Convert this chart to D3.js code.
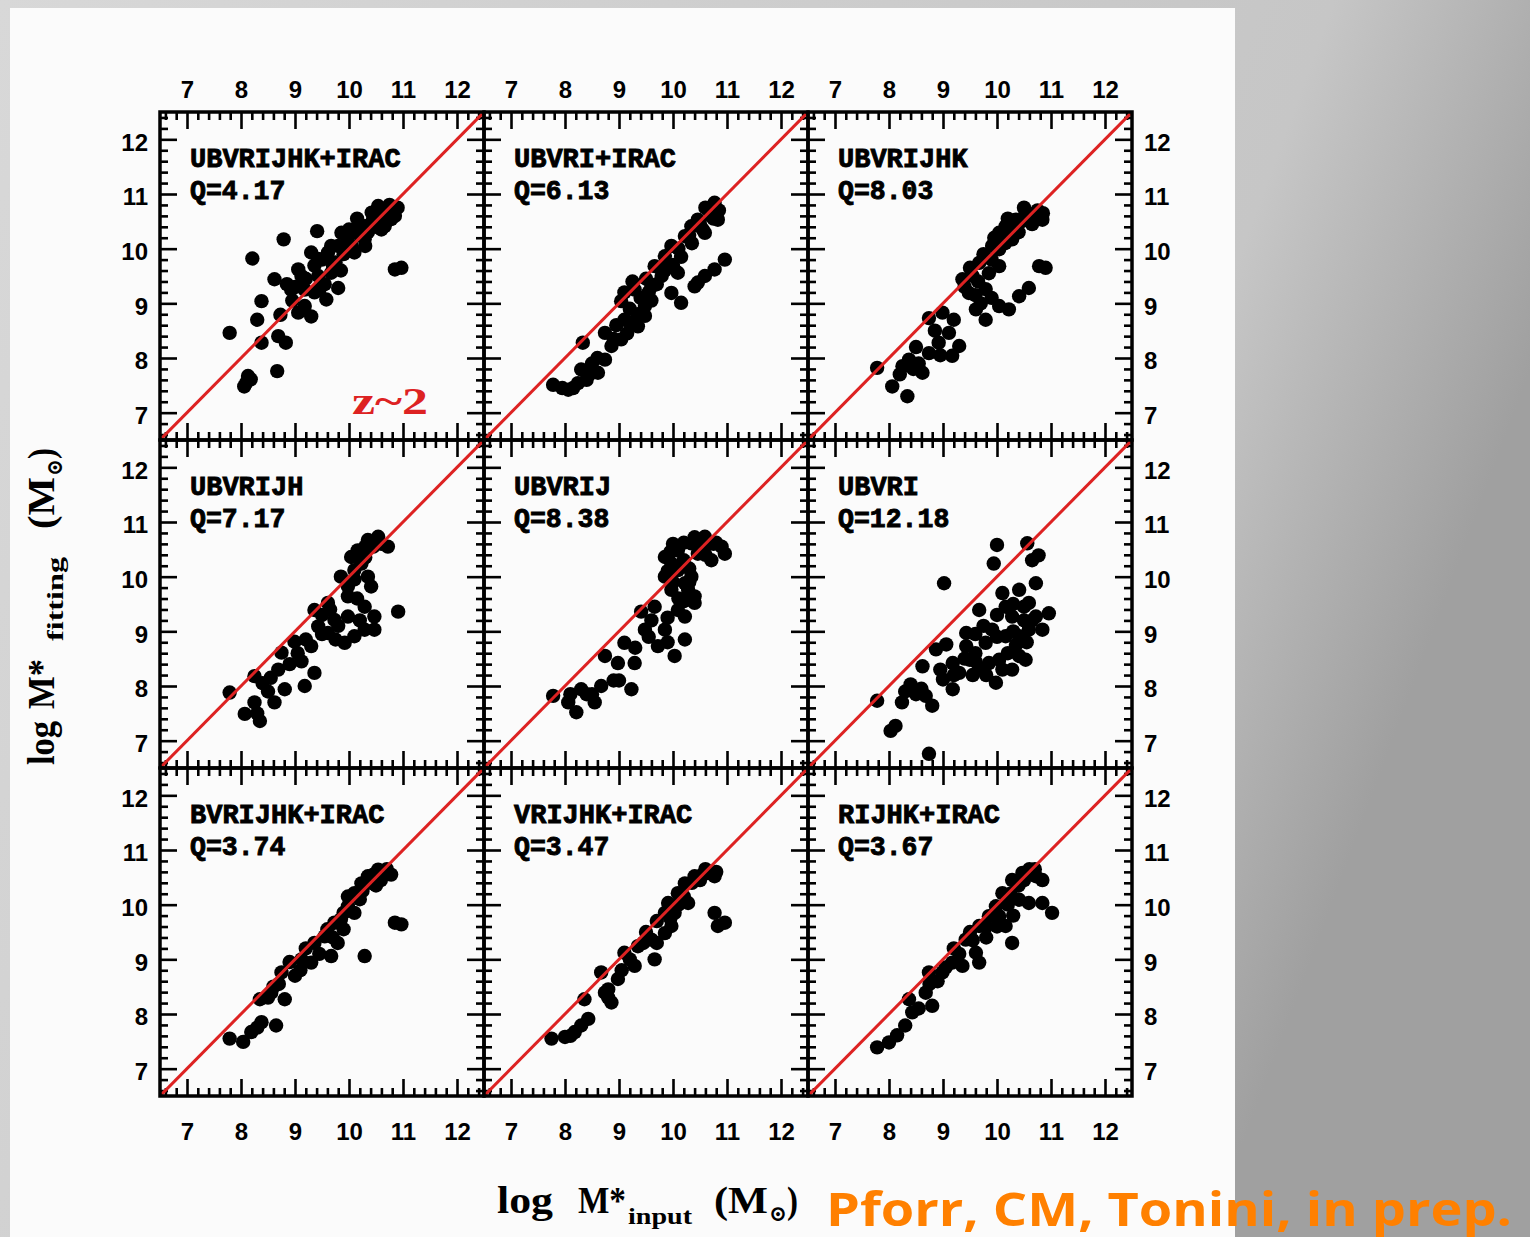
<!DOCTYPE html>
<html><head><meta charset="utf-8">
<script src="https://cdn.jsdelivr.net/npm/d3@7"></script>
<style>html,body{margin:0;padding:0;overflow:hidden;background:#ccc}svg{display:block}</style>
</head><body>
<script>
// Photometric band combinations used in the SED fits and their quality figure Q
const bandSets = ["UBVRIJHK+IRAC","UBVRI+IRAC","UBVRIJHK","UBVRIJH","UBVRIJ","UBVRI","BVRIJHK+IRAC","VRIJHK+IRAC","RIJHK+IRAC"];
const qValues = ["4.17","6.13","8.03","7.17","8.38","12.18","3.74","3.47","3.67"];
const majorTicks = [7,8,9,10,11,12];
const minorTicks = [6.6,6.8,7.2,7.4,7.6,7.8,8.2,8.4,8.6,8.8,9.2,9.4,9.6,9.8,10.2,10.4,10.6,10.8,11.2,11.4,11.6,11.8,12.2,12.4];

// [log M*input, log M*fitting] per galaxy
const fitUBVRIJHK_IRAC = [[7.79,8.46],[8.21,9.82],[8.79,10.17],[9.41,10.32],[8.38,9.04],[8.30,8.70],[8.38,8.28],[8.62,9.44],[8.73,8.79],[8.69,8.40],[8.83,8.28],[8.67,7.76],[8.13,7.67],[8.06,7.48],[8.18,7.61],[8.10,7.55],[10.85,9.62],[10.97,9.65],[9.80,9.28],[9.58,9.07],[9.30,8.76],[9.06,8.83],[8.93,9.25],[9.18,9.25],[9.06,9.62],[9.30,9.93],[9.43,9.81],[9.12,9.50],[9.43,9.50],[9.67,9.56],[9.18,8.95],[9.36,9.20],[9.67,10.05],[9.98,10.23],[10.10,9.93],[10.29,10.41],[10.54,10.60],[10.72,10.66],[10.78,10.54],[10.54,10.78],[10.42,10.66],[10.17,10.41],[9.86,10.29],[9.61,9.93],[9.36,9.69],[9.80,10.05],[10.05,10.05],[10.29,10.17],[10.66,10.41],[10.00,10.35],[10.20,10.25],[10.40,10.45],[10.60,10.50],[10.80,10.70],[10.75,10.80],[10.50,10.40],[9.90,9.90],[9.50,9.80],[10.15,10.55],[10.35,10.30],[9.75,9.75],[8.95,9.05],[9.00,9.30],[9.20,9.45],[9.55,9.35],[9.70,9.70],[9.95,10.10],[10.25,10.30],[10.45,10.55],[10.65,10.65],[10.85,10.60],[10.90,10.75],[10.60,10.35],[10.30,10.05],[9.85,9.60],[9.45,9.25],[8.85,9.35]];
const fitUBVRI_IRAC = [[7.78,7.51],[8.06,7.42],[8.24,7.54],[8.30,7.79],[8.33,8.28],[8.61,7.73],[8.74,7.97],[8.74,8.46],[8.86,8.22],[9.04,8.34],[9.10,8.70],[9.04,9.04],[9.29,9.25],[9.48,8.95],[9.35,8.58],[9.60,9.31],[9.66,9.68],[9.85,9.86],[9.79,9.50],[9.97,10.05],[10.09,9.56],[9.97,9.19],[10.15,9.01],[10.22,10.23],[10.34,10.41],[10.46,10.53],[10.65,10.72],[10.77,10.84],[10.83,10.53],[10.59,10.29],[10.40,9.31],[10.59,9.50],[10.77,9.62],[10.96,9.80],[10.46,9.38],[9.50,9.45],[9.90,9.70],[10.10,10.00],[10.30,10.25],[10.50,10.45],[10.70,10.60],[10.60,10.75],[8.95,8.60],[9.20,8.90],[9.15,8.45],[8.50,7.90],[8.40,7.60],[7.95,7.45],[9.40,9.10],[9.55,9.20],[10.00,9.70],[9.48,8.77],[8.15,7.45],[8.45,7.70],[8.60,8.00],[8.90,8.35],[9.20,8.65],[9.35,8.80],[9.60,9.05],[9.70,9.35],[9.85,9.60],[10.15,9.85],[10.35,10.10],[10.55,10.35],[10.75,10.55],[10.85,10.70],[9.10,9.20],[9.25,9.40]];
const fitUBVRIJHK = [[7.78,7.82],[8.06,7.48],[8.34,7.30],[8.25,7.85],[8.37,7.97],[8.62,7.73],[8.74,8.09],[8.74,8.73],[8.99,8.83],[9.11,8.46],[9.30,8.22],[9.17,8.04],[8.92,8.28],[9.36,9.44],[9.48,9.19],[9.67,9.74],[9.61,8.89],[9.79,8.70],[9.79,9.26],[10.04,9.68],[9.91,10.05],[10.04,10.29],[10.16,10.41],[10.35,10.53],[10.53,10.66],[10.72,10.60],[10.84,10.53],[10.28,10.17],[10.04,8.95],[10.22,8.89],[10.41,9.13],[10.59,9.28],[10.90,9.65],[10.78,9.68],[10.04,9.99],[9.55,9.50],[9.50,9.65],[9.75,9.90],[9.95,10.20],[10.10,10.30],[10.30,10.35],[10.45,10.50],[10.60,10.55],[10.75,10.70],[10.50,10.75],[10.20,10.55],[9.85,9.55],[9.70,9.00],[9.20,8.70],[8.85,8.50],[8.55,7.90],[8.45,7.80],[9.40,9.30],[9.65,9.40],[9.90,9.80],[10.15,10.10],[10.40,10.30],[10.65,10.45],[10.85,10.65],[9.60,9.15],[9.90,9.10],[8.95,8.05],[8.20,7.70],[8.50,8.20]];
const fitUBVRIJH = [[7.79,7.88],[8.07,7.49],[8.35,7.36],[8.25,7.70],[8.25,8.18],[8.40,8.05],[8.62,7.70],[8.69,8.30],[8.75,8.61],[8.81,7.94],[8.99,8.81],[9.12,8.45],[9.18,8.00],[9.36,8.24],[9.30,8.73],[9.43,9.09],[9.36,9.39],[9.61,9.52],[9.61,8.97],[9.73,9.21],[9.92,8.79],[9.98,9.27],[10.10,8.91],[10.29,9.03],[10.47,9.03],[10.29,9.45],[10.47,9.27],[10.91,9.36],[9.85,10.00],[9.98,9.82],[10.10,10.12],[10.04,10.36],[10.16,10.48],[10.35,10.67],[10.54,10.73],[10.72,10.55],[10.23,10.24],[10.41,9.82],[9.98,9.64],[10.45,10.55],[10.60,10.60],[10.30,10.35],[9.50,9.30],[9.20,8.85],[8.90,8.40],[8.50,7.90],[9.80,9.10],[10.15,9.60],[10.30,10.55],[10.10,9.95],[10.35,10.00],[9.50,8.95],[9.75,8.85],[9.05,8.60],[8.55,8.15],[8.30,7.50],[9.65,9.40],[10.20,9.20]];
const fitUBVRIJ = [[7.78,7.82],[8.06,7.70],[8.21,7.52],[8.30,7.94],[8.55,7.70],[8.67,8.00],[8.74,8.55],[8.98,8.42],[9.10,8.79],[9.23,7.94],[9.29,8.42],[9.48,9.03],[9.41,9.36],[9.66,9.45],[9.72,8.73],[9.85,9.03],[10.03,8.55],[10.22,8.85],[10.22,9.27],[10.09,9.39],[10.40,9.52],[9.97,9.76],[10.28,9.76],[9.85,10.00],[10.09,10.12],[10.34,10.00],[9.85,10.36],[10.09,10.48],[10.34,10.61],[10.59,10.73],[10.71,10.30],[10.90,10.55],[10.96,10.42],[10.46,10.42],[9.97,10.24],[10.22,9.88],[10.40,9.64],[10.20,10.30],[10.50,10.60],[10.75,10.60],[9.95,10.45],[10.10,9.60],[9.55,8.90],[9.00,8.10],[8.50,7.85],[9.90,9.25],[10.60,10.40],[10.00,10.60],[10.20,10.62],[10.40,10.72],[10.62,10.60],[10.80,10.62],[9.90,10.10],[10.15,10.20],[10.30,10.15],[10.00,9.90],[10.30,9.90],[10.20,9.55],[9.60,9.20],[9.30,8.70],[9.90,8.80],[8.90,8.10],[8.40,7.85],[8.10,7.85]];
const fitUBVRI = [[7.78,7.73],[8.12,7.27],[8.03,7.18],[8.74,6.76],[8.40,8.03],[8.24,7.70],[8.68,7.82],[8.80,7.64],[8.62,8.36],[8.87,8.67],[9.06,8.76],[9.18,8.42],[9.00,8.12],[9.18,7.94],[9.43,8.97],[9.49,8.48],[9.30,8.24],[9.67,9.39],[9.67,8.30],[9.79,8.79],[9.98,8.06],[10.04,8.48],[9.91,9.03],[10.16,8.91],[10.28,8.30],[10.41,8.55],[10.53,8.48],[10.28,9.27],[10.10,9.70],[10.41,9.76],[10.59,9.52],[10.16,9.45],[10.59,9.03],[10.84,9.03],[10.96,9.33],[10.72,9.27],[10.41,8.91],[10.72,9.88],[9.02,9.88],[9.94,10.24],[10.00,10.58],[10.56,10.61],[10.77,10.39],[10.65,10.30],[9.43,8.73],[9.85,8.42],[9.60,8.60],[10.00,8.90],[10.30,9.00],[10.50,9.20],[9.55,8.20],[10.20,8.60],[8.50,7.85],[9.40,8.50],[9.60,8.45],[9.80,8.20],[10.10,8.30],[10.35,8.75],[10.55,8.80],[10.65,9.20],[10.00,9.30],[9.75,9.10],[9.60,8.95],[10.30,9.50],[10.50,9.45],[9.20,8.20],[8.95,8.30],[8.60,7.95],[8.30,7.90]];
const fitBVRIJHK_IRAC = [[7.79,7.55],[8.04,7.49],[8.19,7.67],[8.38,7.85],[8.65,7.79],[8.35,8.27],[8.56,8.39],[8.81,8.27],[8.75,8.76],[9.00,8.70],[9.12,9.00],[9.30,8.94],[9.36,9.30],[9.55,9.42],[9.67,9.06],[9.79,9.30],[9.73,9.67],[9.98,9.97],[10.10,10.21],[10.23,10.39],[10.35,10.52],[10.54,10.64],[10.78,10.55],[10.10,9.85],[10.29,9.06],[10.85,9.67],[10.97,9.64],[9.85,9.73],[10.59,10.45],[9.98,10.15],[10.40,10.40],[10.65,10.55],[9.60,9.55],[9.20,9.20],[8.90,8.95],[8.60,8.50],[9.90,9.85],[10.20,10.10],[8.30,7.75],[8.50,8.30],[8.70,8.55],[9.45,9.10],[9.70,9.40],[9.90,9.55],[10.25,10.25],[10.45,10.55],[10.70,10.65],[10.50,10.35],[9.10,8.80]];
const fitVRIJHK_IRAC = [[7.75,7.55],[8.00,7.58],[8.18,7.67],[8.30,7.79],[8.43,7.91],[8.36,8.27],[8.67,8.76],[8.74,8.39],[8.86,8.21],[8.98,8.64],[9.10,9.12],[9.29,8.88],[9.35,9.24],[9.60,9.36],[9.66,9.00],[9.85,9.48],[9.97,9.61],[9.85,9.85],[9.91,10.03],[10.09,10.21],[10.22,10.39],[10.40,10.52],[10.65,10.58],[10.77,10.52],[10.28,10.03],[10.77,9.85],[10.96,9.67],[10.83,9.61],[10.03,9.85],[10.50,10.45],[10.60,10.65],[9.50,9.50],[9.20,9.00],[8.80,8.45],[9.70,9.70],[10.10,10.00],[8.80,8.30],[9.05,8.80],[9.45,9.30],[9.70,9.30],[9.95,9.75],[10.20,10.15],[10.35,10.40],[10.55,10.55],[10.80,10.60],[8.10,7.60]];
const fitRIJHK_IRAC = [[7.78,7.39],[8.00,7.48],[8.15,7.61],[8.30,7.79],[8.43,8.03],[8.37,8.27],[8.68,8.39],[8.80,8.15],[8.74,8.76],[8.99,8.76],[9.17,8.94],[9.36,8.88],[9.42,9.36],[9.61,9.12],[9.67,8.94],[9.67,9.61],[9.85,9.79],[9.98,9.97],[10.10,10.21],[10.28,10.45],[10.47,10.58],[10.72,10.52],[10.84,10.45],[10.28,9.30],[10.16,9.61],[10.59,10.03],[10.84,10.03],[11.02,9.85],[10.41,10.09],[10.04,9.79],[10.40,10.35],[10.60,10.65],[9.50,9.50],[9.20,9.20],[8.90,8.60],[9.80,9.60],[10.20,10.00],[8.75,8.55],[9.05,8.85],[9.30,9.10],[9.55,9.35],[9.80,9.40],[10.00,9.60],[10.25,10.20],[10.50,10.45],[10.70,10.65],[10.30,9.80],[8.55,8.10]];
const panelData = [fitUBVRIJHK_IRAC, fitUBVRI_IRAC, fitUBVRIJHK, fitUBVRIJH, fitUBVRIJ, fitUBVRI, fitBVRIJHK_IRAC, fitVRIJHK_IRAC, fitRIJHK_IRAC];

const W = 1530, H = 1237;
const X0 = 160, Y0 = 112, PW = 324, PH = 328;
const domain = [6.5, 12.5];

const svg = d3.select("body").append("svg").attr("width", W).attr("height", H);
const defs = svg.append("defs");
const grad = defs.append("linearGradient").attr("id", "bg").attr("x1", "0").attr("y1", "0").attr("x2", "1").attr("y2", "0.3");
grad.append("stop").attr("offset", "0").attr("stop-color", "#d8d8d8");
grad.append("stop").attr("offset", "0.8").attr("stop-color", "#c6c6c6");
grad.append("stop").attr("offset", "1").attr("stop-color", "#a0a0a0");
svg.append("rect").attr("width", W).attr("height", H).attr("fill", "url(#bg)");
svg.append("rect").attr("x", 10).attr("y", 8).attr("width", 1225).attr("height", H - 8).attr("fill", "#fbfbfb");

const tickFont = "'Liberation Sans', Arial, sans-serif";

panelData.forEach((pts, i) => {
  const col = i % 3, row = Math.floor(i / 3);
  const left = X0 + col * PW, top = Y0 + row * PH;
  const x = d3.scaleLinear().domain(domain).range([left, left + PW]);
  const y = d3.scaleLinear().domain(domain).range([top + PH, top]);
  const g = svg.append("g");

  defs.append("clipPath").attr("id", "clip" + i)
    .append("rect").attr("x", left).attr("y", top).attr("width", PW).attr("height", PH);

  // inward ticks on all four sides, labels only on the outer edges of the grid
  const sides = [
    {gen: d3.axisTop, t: `translate(0,${top})`, s: x, lab: row === 0, pad: 14},
    {gen: d3.axisBottom, t: `translate(0,${top + PH})`, s: x, lab: row === 2, pad: 27},
    {gen: d3.axisLeft, t: `translate(${left},0)`, s: y, lab: col === 0, pad: 12},
    {gen: d3.axisRight, t: `translate(${left + PW},0)`, s: y, lab: col === 2, pad: 12}
  ];
  sides.forEach(sd => {
    const major = g.append("g").attr("transform", sd.t)
      .call(sd.gen(sd.s).tickValues(majorTicks).tickSizeInner(-17).tickSizeOuter(0)
        .tickPadding(sd.pad).tickFormat(sd.lab ? d3.format("d") : () => ""));
    const minor = g.append("g").attr("transform", sd.t)
      .call(sd.gen(sd.s).tickValues(minorTicks).tickSizeInner(-8).tickSizeOuter(0).tickFormat(() => ""));
    [major, minor].forEach(a => {
      a.select(".domain").remove();
      a.selectAll(".tick line").attr("stroke", "#000").attr("stroke-width", 2.6);
    });
    major.selectAll(".tick text").attr("fill", "#000")
      .attr("font-family", tickFont).attr("font-weight", "bold").attr("font-size", 24);
    if (sd.gen === d3.axisLeft || sd.gen === d3.axisRight) major.selectAll(".tick text").attr("dy", "0.45em");
  });

  // galaxies
  g.append("g").attr("clip-path", `url(#clip${i})`)
    .selectAll("circle").data(pts).join("circle")
    .attr("cx", d => x(d[0])).attr("cy", d => y(d[1])).attr("r", 7.2).attr("fill", "#000");

  // one-to-one relation
  g.append("line").attr("clip-path", `url(#clip${i})`)
    .attr("x1", x(domain[0])).attr("y1", y(domain[0])).attr("x2", x(domain[1])).attr("y2", y(domain[1]))
    .attr("stroke", "#dd2222").attr("stroke-width", 3);

  // frame
  g.append("rect").attr("x", left).attr("y", top).attr("width", PW).attr("height", PH)
    .attr("fill", "none").attr("stroke", "#000").attr("stroke-width", 3.5);

  // band set and Q
  const lab = g.append("g").attr("font-family", "'Liberation Mono', 'DejaVu Sans Mono', monospace")
    .attr("font-weight", "bold").attr("font-size", 27).attr("fill", "#000").attr("stroke", "#000").attr("stroke-width", 0.9);
  lab.append("text").attr("x", left + 30).attr("y", top + 55)
    .attr("textLength", bandSets[i].length * 16.2).attr("lengthAdjust", "spacingAndGlyphs").text(bandSets[i]);
  const qs = "Q=" + qValues[i];
  lab.append("text").attr("x", left + 30).attr("y", top + 87)
    .attr("textLength", qs.length * 15.9).attr("lengthAdjust", "spacingAndGlyphs").text(qs);

  if (i === 0) {
    g.append("text").attr("x", left + 192).attr("y", top + 302)
      .attr("font-family", "'Liberation Serif', serif").attr("font-weight", "bold").attr("font-size", 38)
      .attr("fill", "#dd2222").attr("textLength", 76).attr("lengthAdjust", "spacingAndGlyphs").text("z~2");
  }
});

// axis titles, each piece placed along its own baseline
const serif = "'Liberation Serif', 'DejaVu Serif', serif";
function titlePieces(parent, pieces) {
  pieces.forEach(p => {
    parent.append("text").attr("x", p.x).attr("y", p.y)
      .attr("font-family", p.sym ? "'DejaVu Sans', sans-serif" : serif).attr("font-weight", "bold")
      .attr("font-size", p.size).attr("fill", "#000")
      .attr("textLength", p.w).attr("lengthAdjust", "spacingAndGlyphs").text(p.t);
  });
}
titlePieces(svg.append("g"), [
  {t: "log", x: 497, y: 1213, size: 38, w: 56},
  {t: "M*", x: 578, y: 1213, size: 38, w: 48},
  {t: "input", x: 628, y: 1224, size: 24, w: 64},
  {t: "(M", x: 714, y: 1213, size: 38, w: 54},
  {t: "⊙", x: 769, y: 1221, size: 22, w: 18},
  {t: ")", x: 787, y: 1213, size: 38, w: 11}
]);
titlePieces(svg.append("g").attr("transform", "translate(54,765) rotate(-90)"), [
  {t: "log", x: 0, y: 0, size: 38, w: 44},
  {t: "M*", x: 56, y: 0, size: 38, w: 50},
  {t: "fitting", x: 124, y: 9, size: 24, w: 84},
  {t: "(M", x: 236, y: 0, size: 38, w: 52},
  {t: "⊙", x: 289, y: 8, size: 22, w: 17},
  {t: ")", x: 306, y: 0, size: 38, w: 11}
]);

svg.append("text").attr("x", 826).attr("y", 1226)
  .attr("font-family", "'Open Sans', 'DejaVu Sans', sans-serif").attr("font-weight", "bold").attr("font-size", 46)
  .attr("fill", "#ff8000").attr("textLength", 686).attr("lengthAdjust", "spacingAndGlyphs")
  .text("Pforr, CM, Tonini, in prep.");
</script>
</body></html>
